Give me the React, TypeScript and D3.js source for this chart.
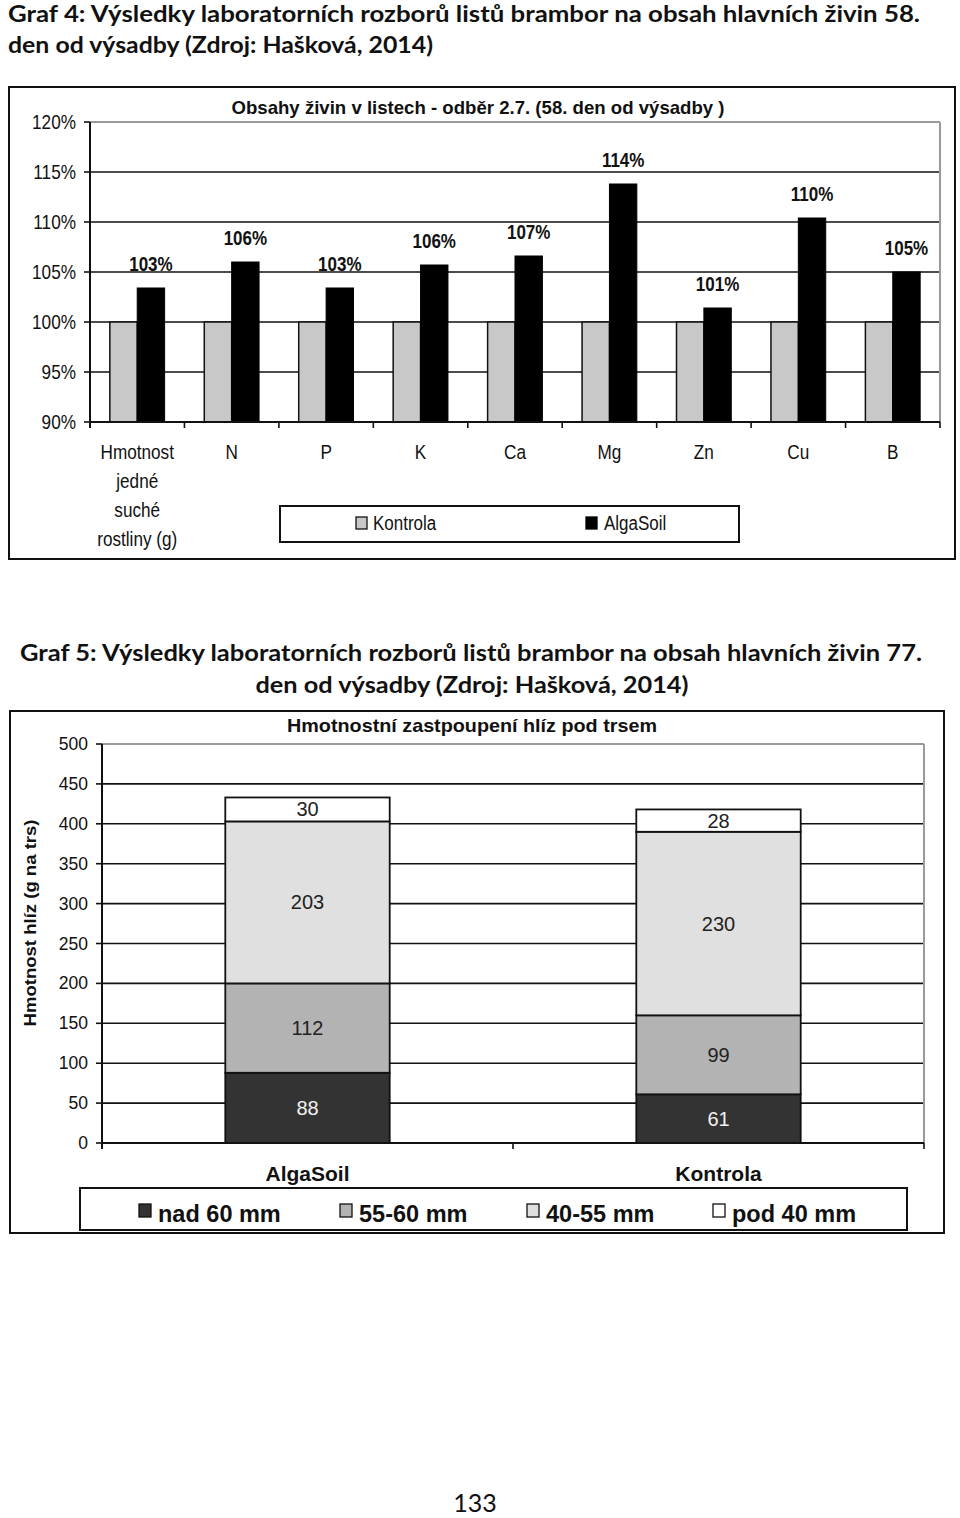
import React from "react";
import * as d3 from "d3";

// ---------- Chart 1 data ----------
const categories1 = ["Hmotnost|jedné|suché|rostliny (g)", "N", "P", "K", "Ca", "Mg", "Zn", "Cu", "B"];
const kontrola1 = [100, 100, 100, 100, 100, 100, 100, 100, 100];
const algaSoil1 = [103.4, 106.0, 103.4, 105.7, 106.6, 113.8, 101.4, 110.4, 105.0];
const yTicks1 = [90, 95, 100, 105, 110, 115, 120];

// ---------- Chart 2 data ----------
const groups2 = ["AlgaSoil", "Kontrola"];
const seriesKeys2 = ["nad 60 mm", "55-60 mm", "40-55 mm", "pod 40 mm"];
const nad60 = [88, 61];
const s5560 = [112, 99];
const s4055 = [203, 230];
const pod40 = [30, 28];
const yTicks2 = [0, 50, 100, 150, 200, 250, 300, 350, 400, 450, 500];

const seriesColors2 = ["#333333", "#b3b3b3", "#e0e0e0", "#ffffff"];
const labelColors2 = ["#f2f2f2", "#222222", "#222222", "#222222"];

const ARIAL = "'Liberation Sans', Arial, sans-serif";
const CAL = "Lato, 'Open Sans', sans-serif";

const T = ({ x, y, sx = 1, children, ...rest }: any) => (
  <text transform={`translate(${x},${y}) scale(${sx},1)`} {...rest}>
    {children}
  </text>
);

function Chart1() {
  const x = d3.scaleBand<string>().domain(categories1).range([90, 940]);
  const y = d3.scaleLinear().domain([90, 120]).range([422, 122]);
  const bw = x.bandwidth();
  const barW = bw * 0.29;
  return (
    <g>
      <rect x={9} y={87} width={946} height={472} fill="#fff" stroke="#111" strokeWidth={2} />
      <text x={478} y={114} textAnchor="middle" fontFamily={ARIAL} fontWeight="bold" fontSize={18.5} textLength={493} lengthAdjust="spacingAndGlyphs" fill="#111">
        Obsahy živin v listech - odběr 2.7. (58. den od výsadby )
      </text>
      {yTicks1.map((t) => (
        <g key={t}>
          {t > 90 && (
            <line x1={90} x2={940} y1={y(t)} y2={y(t)} stroke={t === 120 ? "#9a9a9a" : "#111"} strokeWidth={t === 120 ? 2 : 1.6} />
          )}
          <line x1={84} x2={90} y1={y(t)} y2={y(t)} stroke="#111" strokeWidth={1.6} />
          <T x={76} y={y(t) + 7} sx={0.86} textAnchor="end" fontFamily={ARIAL} fontSize={20} fill="#111">
            {t}%
          </T>
        </g>
      ))}
      <line x1={940} x2={940} y1={y(120)} y2={y(90)} stroke="#9a9a9a" strokeWidth={2} />
      {categories1.map((c, i) => {
        const x0 = x(c) as number;
        const kv = kontrola1[i];
        const av = algaSoil1[i];
        return (
          <g key={c}>
            <rect x={x0 + bw * 0.5 - barW} y={y(kv)} width={barW} height={y(90) - y(kv)} fill="#c8c8c8" stroke="#111" strokeWidth={1.5} />
            <rect x={x0 + bw * 0.5} y={y(av)} width={barW} height={y(90) - y(av)} fill="#000" stroke="#000" strokeWidth={1} />
            <T x={x0 + bw * 0.5 + barW / 2} y={y(av) - 17} sx={0.85} textAnchor="middle" fontFamily={ARIAL} fontWeight="bold" fontSize={20} fill="#111">
              {Math.round(av)}%
            </T>
            {c.split("|").map((ln, j) => (
              <T key={j} x={x0 + bw / 2} y={459 + j * 29} sx={0.88} textAnchor="middle" fontFamily={ARIAL} fontSize={19.5} fill="#111">
                {ln}
              </T>
            ))}
          </g>
        );
      })}
      <line x1={90} x2={90} y1={y(120)} y2={y(90) + 6} stroke="#111" strokeWidth={2} />
      <line x1={90} x2={940} y1={y(90)} y2={y(90)} stroke="#111" strokeWidth={2} />
      {categories1.map((c) => (
        <line key={c} x1={(x(c) as number) + bw} x2={(x(c) as number) + bw} y1={y(90)} y2={y(90) + 6} stroke="#111" strokeWidth={1.6} />
      ))}
      {/* legend */}
      <rect x={280} y={506} width={459} height={36} fill="#fff" stroke="#111" strokeWidth={2} />
      <rect x={356} y={517} width={11} height={12} fill="#c8c8c8" stroke="#111" strokeWidth={1.3} />
      <T x={373} y={530} sx={0.87} fontFamily={ARIAL} fontSize={19.5} fill="#111">Kontrola</T>
      <rect x={586} y={517} width={11} height={12} fill="#000" stroke="#000" strokeWidth={1.3} />
      <T x={604} y={530} sx={0.87} fontFamily={ARIAL} fontSize={19.5} fill="#111">AlgaSoil</T>
    </g>
  );
}

function Chart2() {
  const x = d3.scaleBand<string>().domain(groups2).range([102, 924]);
  const y = d3.scaleLinear().domain([0, 500]).range([1143, 744]);
  const bw = x.bandwidth();
  const table = groups2.map((g, i) => ({
    group: g,
    "nad 60 mm": nad60[i],
    "55-60 mm": s5560[i],
    "40-55 mm": s4055[i],
    "pod 40 mm": pod40[i],
  }));
  const stacked = d3.stack<any>().keys(seriesKeys2)(table);
  return (
    <g>
      <rect x={10} y={711} width={934} height={522} fill="#fff" stroke="#111" strokeWidth={2} />
      <text x={472} y={732} textAnchor="middle" fontFamily={ARIAL} fontWeight="bold" fontSize={19} textLength={370} lengthAdjust="spacingAndGlyphs" fill="#111">
        Hmotnostní zastpoupení hlíz pod trsem
      </text>
      <text transform="translate(36,923) rotate(-90)" textAnchor="middle" fontFamily={ARIAL} fontWeight="bold" fontSize={17} textLength={207} lengthAdjust="spacingAndGlyphs" fill="#111">
        Hmotnost hlíz (g na trs)
      </text>
      {yTicks2.map((t) => (
        <g key={t}>
          {t > 0 && (
            <line x1={102} x2={924} y1={y(t)} y2={y(t)} stroke={t === 500 ? "#9a9a9a" : "#111"} strokeWidth={t === 500 ? 2 : 1.6} />
          )}
          <line x1={96} x2={102} y1={y(t)} y2={y(t)} stroke="#111" strokeWidth={1.6} />
          <text x={88} y={y(t) + 6} textAnchor="end" fontFamily={ARIAL} fontSize={17.5} fill="#111">
            {t}
          </text>
        </g>
      ))}
      <line x1={924} x2={924} y1={y(500)} y2={y(0)} stroke="#9a9a9a" strokeWidth={2} />
      {stacked.map((s, si) => (
        <g key={s.key}>
          {s.map((d, i) => {
            const x0 = (x(groups2[i]) as number) + bw * 0.3;
            const w = bw * 0.4;
            const yt = y(d[1]);
            const yb = y(d[0]);
            return (
              <g key={i}>
                <rect x={x0} y={yt} width={w} height={yb - yt} fill={seriesColors2[si]} stroke="#111" strokeWidth={1.8} />
                <text x={x0 + w / 2} y={(yt + yb) / 2 + 7} textAnchor="middle" fontFamily={ARIAL} fontSize={20} fill={labelColors2[si]}>
                  {d[1] - d[0]}
                </text>
              </g>
            );
          })}
        </g>
      ))}
      <line x1={102} x2={102} y1={y(500)} y2={y(0) + 6} stroke="#111" strokeWidth={2} />
      <line x1={102} x2={924} y1={y(0)} y2={y(0)} stroke="#111" strokeWidth={2} />
      {groups2.map((g) => (
        <g key={g}>
          <line x1={(x(g) as number) + bw} x2={(x(g) as number) + bw} y1={y(0)} y2={y(0) + 6} stroke="#111" strokeWidth={1.6} />
          <text x={(x(g) as number) + bw / 2} y={1181} textAnchor="middle" fontFamily={ARIAL} fontWeight="bold" fontSize={21} fill="#111">
            {g}
          </text>
        </g>
      ))}
      {/* legend */}
      <rect x={80} y={1188} width={827} height={42} fill="#fff" stroke="#111" strokeWidth={2} />
      {seriesKeys2.map((k, i) => {
        const lx = [139, 340, 527, 713][i];
        return (
          <g key={k}>
            <rect x={lx} y={1204} width={12} height={13} fill={seriesColors2[i]} stroke="#111" strokeWidth={1.3} />
            <text x={lx + 19} y={1222} fontFamily={ARIAL} fontWeight="bold" fontSize={23.5} fill="#111">
              {k}
            </text>
          </g>
        );
      })}
    </g>
  );
}

export default function App() {
  return (
    <svg width={960} height={1518} style={{ position: "absolute", left: 0, top: 0, display: "block" }} xmlns="http://www.w3.org/2000/svg">
      <rect x={0} y={0} width={960} height={1518} fill="#fff" />
      <text x={8} y={22} fontFamily={CAL} fontWeight="bold" fontSize={22.5} textLength={912} lengthAdjust="spacingAndGlyphs" fill="#111">
        Graf 4: Výsledky laboratorních rozborů listů brambor na obsah hlavních živin 58.
      </text>
      <text x={8} y={53} fontFamily={CAL} fontWeight="bold" fontSize={22.5} textLength={425} lengthAdjust="spacingAndGlyphs" fill="#111">
        den od výsadby (Zdroj: Hašková, 2014)
      </text>
      <Chart1 />
      <text x={471} y={661} textAnchor="middle" fontFamily={CAL} fontWeight="bold" fontSize={22.5} textLength={902} lengthAdjust="spacingAndGlyphs" fill="#111">
        Graf 5: Výsledky laboratorních rozborů listů brambor na obsah hlavních živin 77.
      </text>
      <text x={472} y={693} textAnchor="middle" fontFamily={CAL} fontWeight="bold" fontSize={22.5} textLength={433} lengthAdjust="spacingAndGlyphs" fill="#111">
        den od výsadby (Zdroj: Hašková, 2014)
      </text>
      <Chart2 />
      <text x={475} y={1512} textAnchor="middle" fontFamily={CAL} fontSize={25} fill="#111">
        133
      </text>
    </svg>
  );
}
